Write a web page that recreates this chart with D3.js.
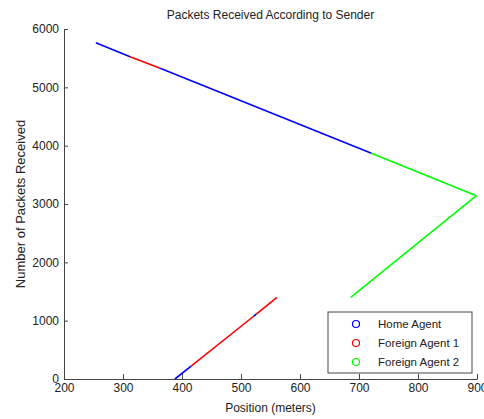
<!DOCTYPE html>
<html>
<head>
<meta charset="utf-8">
<script src="https://cdn.jsdelivr.net/npm/d3@7"></script>
<style>
  body { margin: 0; background: white; }
  svg { display: block; font-family: Arial, "Liberation Sans", sans-serif; }
</style>
</head>
<body>
<div id="chart"></div>
<script>
// senders (legend order) and their colours
const agents = ["Home Agent", "Foreign Agent 1", "Foreign Agent 2"];
const agentColors = ["#0000ff", "#ff0000", "#00ff00"];

// trajectory pieces, in time order: which agent delivered, position range, packet count range
const segAgent = [0, 1, 0, 1, 2, 2, 0, 1, 0];
const segPos = [[388, 416], [416, 522], [522, 526], [526, 561], [686, 899], [899, 721], [721, 363], [363, 312], [312, 254]];
const segCount = [[0, 223], [223, 1080], [1080, 1112], [1112, 1401], [1401, 3142], [3142, 3869], [3869, 5327], [5327, 5525], [5525, 5765]];

const xTicks = [200, 300, 400, 500, 600, 700, 800, 900];
const yTicks = [0, 1000, 2000, 3000, 4000, 5000, 6000];

const width = 484, height = 419;
const margin = { top: 29, right: 7, bottom: 40, left: 64 };

const svg = d3.select("#chart")
  .append("svg")
  .attr("width", width)
  .attr("height", height);

const x = d3.scaleLinear().domain([200, 900]).range([margin.left, width - margin.right]);
const y = d3.scaleLinear().domain([0, 6000]).range([height - margin.bottom, margin.top]);

// axes, MATLAB style: ticks pointing inward
const xAxis = svg.append("g")
  .attr("transform", `translate(0,${height - margin.bottom})`)
  .call(d3.axisBottom(x).tickValues(xTicks).tickFormat(d3.format("d")).tickSizeInner(-5).tickSizeOuter(0).tickPadding(4));

const yAxis = svg.append("g")
  .attr("transform", `translate(${margin.left},0)`)
  .call(d3.axisLeft(y).tickValues(yTicks).tickFormat(d3.format("d")).tickSizeInner(-4).tickSizeOuter(0).tickPadding(5));

[xAxis, yAxis].forEach(a => {
  a.select(".domain").attr("stroke", "#444");
  a.selectAll(".tick line").attr("stroke", "#444");
  a.selectAll(".tick text").attr("fill", "#222").style("font-size", "12px");
});

// data pieces
const line = d3.line().x(d => x(d[0])).y(d => y(d[1]));
svg.append("g")
  .attr("fill", "none")
  .attr("stroke-width", 1.6)
  .selectAll("path")
  .data(segAgent.map((a, i) => ({ agent: a, pts: [[segPos[i][0], segCount[i][0]], [segPos[i][1], segCount[i][1]]] })))
  .join("path")
  .attr("stroke", d => agentColors[d.agent])
  .attr("d", d => line(d.pts));

// title and axis labels
svg.append("text")
  .attr("x", (margin.left + width - margin.right) / 2)
  .attr("y", 19)
  .attr("text-anchor", "middle")
  .attr("fill", "#222")
  .style("font-size", "12px")
  .text("Packets Received According to Sender");

svg.append("text")
  .attr("x", (margin.left + width - margin.right) / 2)
  .attr("y", 412)
  .attr("text-anchor", "middle")
  .attr("fill", "#222")
  .style("font-size", "12px")
  .text("Position (meters)");

svg.append("text")
  .attr("transform", `translate(25,${(margin.top + height - margin.bottom) / 2}) rotate(-90)`)
  .attr("text-anchor", "middle")
  .attr("fill", "#222")
  .style("font-size", "13px")
  .text("Number of Packets Received");

// legend
const legend = svg.append("g").attr("transform", "translate(328,312)");
legend.append("rect")
  .attr("width", 144)
  .attr("height", 61)
  .attr("fill", "white")
  .attr("stroke", "#444");

const rows = legend.selectAll("g.row")
  .data(agents)
  .join("g")
  .attr("class", "row")
  .attr("transform", (d, i) => `translate(0,${12 + i * 19})`);

rows.append("circle")
  .attr("cx", 28)
  .attr("r", 3.5)
  .attr("fill", "none")
  .attr("stroke-width", 1.2)
  .attr("stroke", (d, i) => agentColors[i]);

rows.append("text")
  .attr("x", 50)
  .attr("dy", "0.35em")
  .attr("fill", "#222")
  .style("font-size", "11.5px")
  .text(d => d);
</script>
</body>
</html>
